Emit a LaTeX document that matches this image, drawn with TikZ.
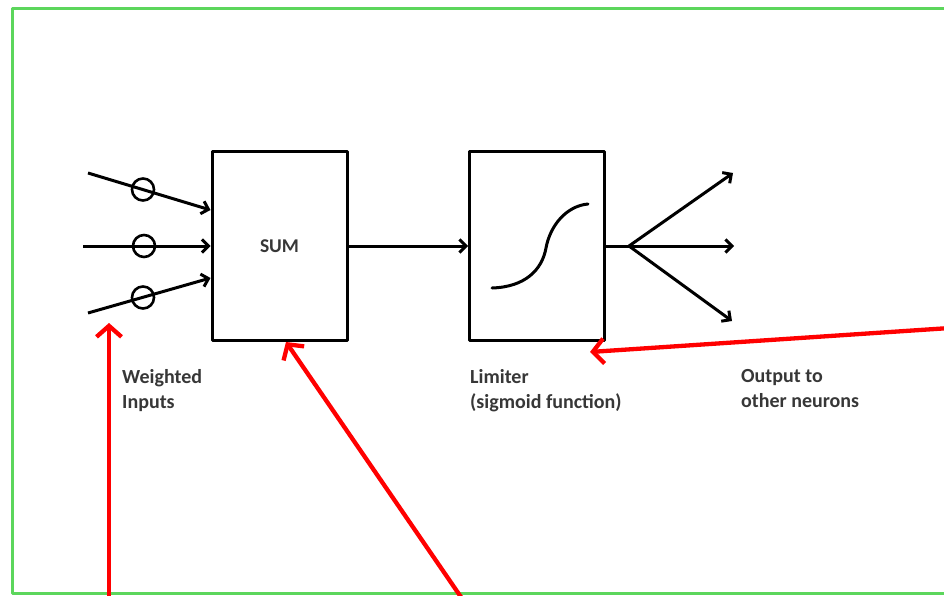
\documentclass[tikz,border=0pt]{standalone}
\usepackage{fontspec}
\setmainfont{Carlito}
\usetikzlibrary{arrows.meta}
\definecolor{bordergreen}{RGB}{92,214,92}
\definecolor{txt}{RGB}{55,55,55}
\begin{document}
\begin{tikzpicture}[x=1pt,y=-1pt,line join=round,
  blk/.style={draw=black,line width=3pt,fill=white,minimum width=135pt,minimum height=188pt,inner sep=0pt},
  wt/.style={draw=black,line width=2.6pt,circle,minimum size=22pt,inner sep=0pt},
  conn/.style={line width=3pt,-{Straight Barb[length=6.5pt,width=13pt]}},
  plain/.style={line width=3pt},
  redarr/.style={draw=red,line width=4.3pt,-{Straight Barb[length=11pt,width=25pt]}},
  lbl/.style={font=\fontsize{20}{25}\selectfont\bfseries,text=txt,align=left,anchor=north west,inner sep=0pt}]
\useasboundingbox[fill=white] (0,0) rectangle (944,596);
% green frame
\draw[bordergreen,line width=3pt] (950,9) -- (12,9) -- (12,593) -- (950,593);
% boxes
\node[blk] (sum) at (279.5,246) {\fontsize{19.5}{22}\selectfont\bfseries\color{txt}SUM};
\node[blk] (lim) at (537,246) {};
% sigmoid
\draw[line width=3pt,line cap=round] (492,288) .. controls (525,287) and (542,270) .. (546,248) .. controls (550,226) and (566,206) .. (588,204);
% weighted inputs
\coordinate (in1) at (88,173);
\coordinate (in2) at (83,246);
\coordinate (in3) at (88,313);
\node[wt] (w1) at (143,189.5) {};
\node[wt] (w2) at (144,246) {};
\node[wt] (w3) at (143,297.5) {};
\draw[conn] (in1) -- ([yshift=36pt]sum.west);
\draw[conn] (in2) -- (sum.west);
\draw[conn] (in3) -- ([yshift=-32pt]sum.west);
% sum to limiter
\draw[conn] (sum.east) -- (lim.west);
% outputs
\coordinate (fork) at (629,246);
\coordinate (o1) at (733,173);
\coordinate (o2) at (734,246);
\coordinate (o3) at (732,321);
\draw[plain] (lim.east) -- (fork);
\draw[conn] (fork) -- (o1);
\draw[conn] (fork) -- (o2);
\draw[conn] (fork) -- (o3);
% labels
\node[lbl] (lw) at (122,369) {Weighted\\Inputs};
\node[lbl] (ll) at (470,369) {Limiter\\(sigmoid function)};
\node[lbl] (lo) at (741,369) {Output to\\other neurons};
% red pointers
\coordinate (r1a) at (109,600);
\coordinate (r1b) at (109,323);
\coordinate (r2a) at (463,600);
\coordinate (r2b) at (286,342);
\coordinate (r3a) at (950,328);
\coordinate (r3b) at (590,352);
\draw[redarr] (r1a) -- (r1b);
\draw[redarr] (r2a) -- (r2b);
\draw[redarr] (r3a) -- (r3b);
\end{tikzpicture}
\end{document}
